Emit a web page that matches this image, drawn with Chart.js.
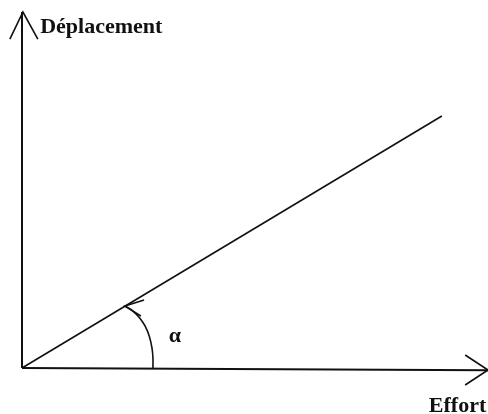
<!DOCTYPE html>
<html>
<head>
<meta charset="utf-8">
<script src="https://cdn.jsdelivr.net/npm/chart.js@4/dist/chart.umd.min.js"></script>
<style>
html,body{margin:0;padding:0;background:#fff;}
canvas{display:block;}
</style>
</head>
<body>
<canvas id="c" width="488" height="414"></canvas>
<script>
// Data (abstract units: Effort on x, Déplacement on y)
const lineX = [0, 90.1];
const lineY = [0, 70.8];
const xAxisX = [0, 100];
const xAxisY = [0, -0.6];
const yAxisX = [0, 0];
const yAxisY = [0, 100];
const yArrowX = [-2.6, 0.2, 3.4];
const yArrowY = [92.4, 100, 92.4];
const xArrowX = [95.1, 100, 95.1];
const xArrowY = [3.65, -0.56, -4.78];
const arcX = [22.1, 23.8, 25.3, 26.4, 27.3, 27.9, 28.1, 28.1];
const arcY = [17.4, 16.0, 14.0, 11.8, 9.0, 5.6, 2.8, 0];
const arcArrowX = [26.2, 22.1, 25.5];
const arcArrowY = [19.1, 17.4, 14.6];
const labels = ['Déplacement', 'Effort', 'α'];
const labelX = [3.9, 87.3, 32.8];
const labelY = [94.1, -12.4, 9.0];

const pts = (xs, ys) => xs.map((x, i) => ({x: x, y: ys[i]}));
const ds = (xs, ys, w, t) => ({
  data: pts(xs, ys), showLine: true, borderColor: '#111', borderWidth: w,
  pointRadius: 0, tension: t || 0, clip: false, fill: false
});

const textPlugin = {
  id: 'texts',
  afterDatasetsDraw(chart) {
    const ctx = chart.ctx, xs = chart.scales.x, ys = chart.scales.y;
    ctx.save();
    ctx.fillStyle = '#111';
    ctx.font = 'bold 22px "Liberation Serif", "Times New Roman", serif';
    ctx.textBaseline = 'alphabetic';
    ctx.textAlign = 'left';
    ctx.fillText(labels[0], xs.getPixelForValue(labelX[0]), ys.getPixelForValue(labelY[0]));
    ctx.fillText(labels[1], xs.getPixelForValue(labelX[1]), ys.getPixelForValue(labelY[1]));
    ctx.textAlign = 'center';
    ctx.textBaseline = 'middle';
    ctx.fillText(labels[2], xs.getPixelForValue(labelX[2]), ys.getPixelForValue(labelY[2]));
    ctx.restore();
  }
};

new Chart(document.getElementById('c'), {
  type: 'scatter',
  data: {
    datasets: [
      ds(xAxisX, xAxisY, 2),
      ds(yAxisX, yAxisY, 2),
      ds(yArrowX, yArrowY, 1.6),
      ds(xArrowX, xArrowY, 1.6),
      ds(lineX, lineY, 1.6),
      ds(arcX, arcY, 1.6, 0.3),
      ds(arcArrowX, arcArrowY, 1.6)
    ]
  },
  options: {
    responsive: false,
    animation: false,
    layout: {padding: {left: 22, right: 0, top: 12, bottom: 46}},
    plugins: {legend: {display: false}, tooltip: {enabled: false}},
    scales: {
      x: {type: 'linear', min: 0, max: 100, display: false},
      y: {type: 'linear', min: 0, max: 100, display: false}
    }
  },
  plugins: [textPlugin]
});
</script>
</body>
</html>
